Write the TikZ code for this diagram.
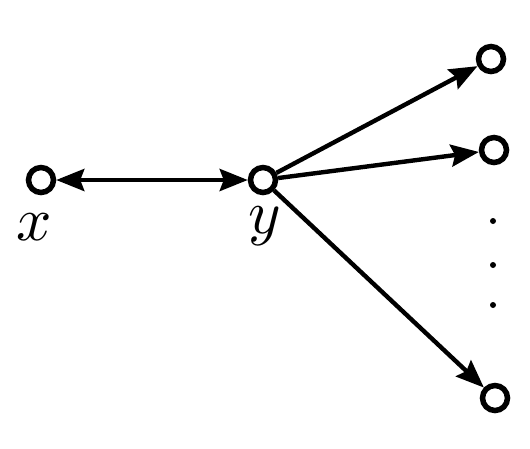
\documentclass[tikz,border=0pt]{standalone}
\usetikzlibrary{arrows.meta}
\tikzset{tip/.tip={Stealth[length=28pt,width=22pt,inset=4pt]}}
\begin{document}
\begin{tikzpicture}[x=1pt,y=-1pt,
  vert/.style={circle,draw,line width=5.5pt,minimum size=25pt,inner sep=0pt},
  edge/.style={line width=4.4pt,-tip},
  lab/.style={inner sep=0pt},
  dot/.style={circle,fill,minimum size=6pt,inner sep=0pt}]
\useasboundingbox (0,0) rectangle (530,448);
\node[vert] (x) at (41,180) {};
\node[vert] (y) at (263,180) {};
\node[vert] (a) at (491,59) {};
\node[vert] (b) at (494,150) {};
\node[vert] (c) at (495,398) {};
\node[lab] (lx) at (34,227) {\scalebox{6.2}{$x$}};
\node[lab] (ly) at (265,226) {\scalebox{6.2}{$y$}};
\node[dot] (d1) at (493,221) {};
\node[dot] (d2) at (493,265) {};
\node[dot] (d3) at (493,305) {};
\draw[edge,tip-tip] (x) -- (y);
\draw[edge] (y) -- (a);
\draw[edge] (y) -- (b);
\draw[edge] (y) -- (c);
\end{tikzpicture}
\end{document}
